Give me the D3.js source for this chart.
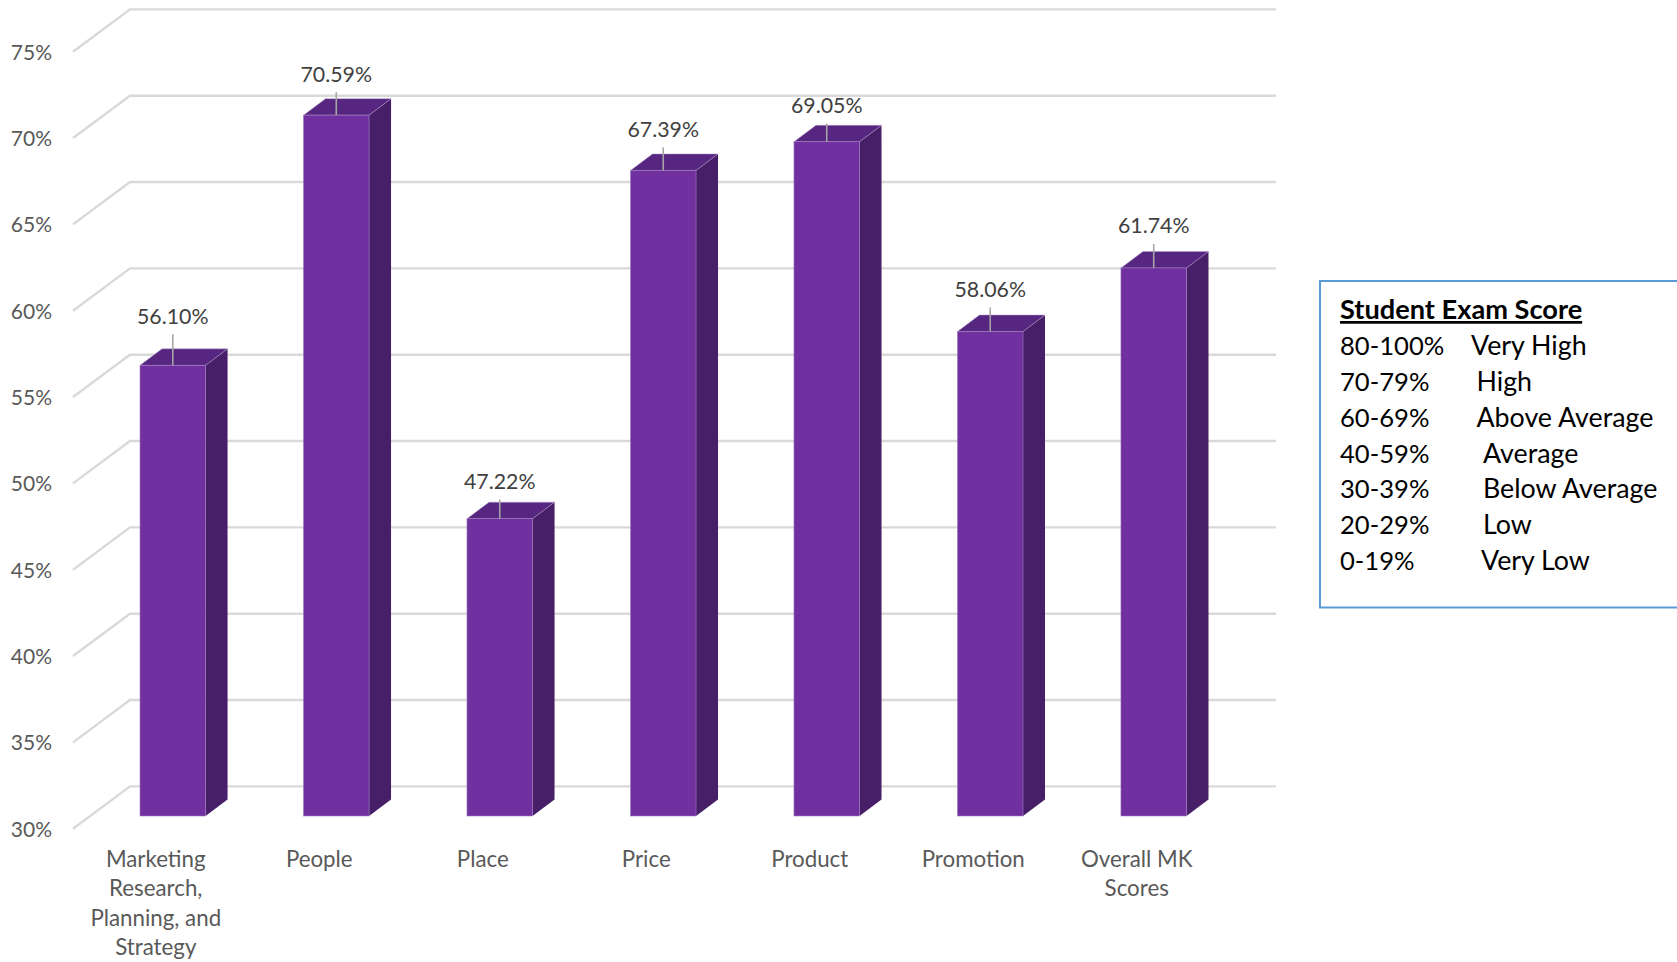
<!DOCTYPE html>
<html>
<head>
<meta charset="utf-8">
<script src="https://cdn.jsdelivr.net/npm/d3@7/dist/d3.min.js"></script>
<style>
html,body{margin:0;padding:0;background:#fff;overflow:hidden}
text{font-family:Lato,"Noto Sans",sans-serif}
</style>
</head>
<body>
<svg id="chart" width="1677" height="962"></svg>
<script>
// Chart data
const categories = ["Marketing Research, Planning, and Strategy", "People", "Place", "Price", "Product", "Promotion", "Overall MK Scores"];
const categoryLines = [["Marketing", "Research,", "Planning, and", "Strategy"], ["People"], ["Place"], ["Price"], ["Product"], ["Promotion"], ["Overall MK", "Scores"]];
const scores = [56.10, 70.59, 47.22, 67.39, 69.05, 58.06, 61.74];
const yTicks = [30, 35, 40, 45, 50, 55, 60, 65, 70, 75];
const legendTitle = "Student Exam Score";
const legendRanges = ["80-100%", "70-79%", "60-69%", "40-59%", "30-39%", "20-29%", "0-19%"];
const legendLevels = ["Very High", "High", "Above Average", "Average", "Below Average", "Low", "Very Low"];

// Length of the leader between each bar top and its value label
const leaderLengths = [31, 23, 19, 23, 18, 24, 24];
// Column start of each level name in the score key
const legendLevelX = [1471, 1476.5, 1476.5, 1483, 1483, 1483, 1481];

const svg = d3.select("#chart");

const y = d3.scaleLinear().domain([30, 75]).range([816, 39]);
const x = d3.scaleBand().domain(categories).range([140, 1186.5]).paddingInner(0.599).paddingOuter(0);
const bw = x.bandwidth();

// Oblique projection used for the bar depth and for the floor/wall gridlines
const barDx = 22, barDy = -16.5;
const gridFrontX = 73, gridBackX = 130, gridRightX = 1276;
const gridFrontDy = 12.7, gridBackDy = -29.6;

// Gridlines: a short diagonal on the side wall, then the back wall run
svg.append("g").selectAll("path").data(yTicks).join("path")
  .attr("fill", "none").attr("stroke", "#d9d9d9").attr("stroke-width", 2.4)
  .attr("d", d => d3.line()([
    [gridFrontX, y(d) + gridFrontDy],
    [gridBackX, y(d) + gridBackDy],
    [gridRightX, y(d) + gridBackDy]
  ]));

// Value axis labels
const yAxis = svg.append("g")
  .attr("transform", "translate(52,0)")
  .call(d3.axisLeft(y).tickValues(yTicks).tickSize(0).tickPadding(0).tickFormat(d => d + "%"));
yAxis.select(".domain").remove();
yAxis.selectAll("text")
  .attr("dy", null).attr("y", 20.2)
  .style("font-family", "Lato, 'Noto Sans', sans-serif")
  .style("font-size", "21px").attr("fill", "#595959");

// Bars
const bars = svg.append("g").selectAll("g").data(scores).join("g");
const base = y.range()[0];
const bx = (d, i) => x(categories[i]);

bars.append("path") // side face
  .attr("fill", "#461f68")
  .attr("d", (d, i) => d3.line()([
    [bx(d, i) + bw, y(d)],
    [bx(d, i) + bw + barDx, y(d) + barDy],
    [bx(d, i) + bw + barDx, base + barDy],
    [bx(d, i) + bw, base]
  ]) + "Z");

bars.append("path") // top face
  .attr("fill", "#572680")
  .attr("stroke", "#b9a3cc").attr("stroke-width", 0.5)
  .attr("d", (d, i) => d3.line()([
    [bx(d, i), y(d)],
    [bx(d, i) + barDx, y(d) + barDy],
    [bx(d, i) + bw + barDx, y(d) + barDy],
    [bx(d, i) + bw, y(d)]
  ]) + "Z");

bars.append("rect") // front face
  .attr("x", (d, i) => bx(d, i))
  .attr("y", d => y(d))
  .attr("width", bw)
  .attr("height", d => base - y(d))
  .attr("fill", "#7030a0")
  .attr("stroke", "#9f7cbc").attr("stroke-width", 0.6);

// Leader lines and value labels
bars.append("line")
  .attr("x1", (d, i) => bx(d, i) + bw / 2)
  .attr("x2", (d, i) => bx(d, i) + bw / 2)
  .attr("y1", d => y(d))
  .attr("y2", (d, i) => y(d) - leaderLengths[i])
  .attr("stroke", "#a6a6a6").attr("stroke-width", 1.6);

bars.append("text")
  .attr("x", (d, i) => bx(d, i) + bw / 2)
  .attr("y", (d, i) => y(d) - leaderLengths[i] - 10.5)
  .attr("text-anchor", "middle")
  .attr("font-size", 21.3).attr("fill", "#404040")
  .text(d => d.toFixed(2) + "%");

// Category labels sit left of the bars, following the chart's front edge
const labelShift = -17;
svg.append("g").selectAll("text").data(categoryLines).join("text")
  .attr("text-anchor", "middle")
  .attr("font-size", 22.3).attr("fill", "#595959")
  .each(function (lines, i) {
    const cx = x(categories[i]) + bw / 2 + labelShift;
    d3.select(this).selectAll("tspan").data(lines).join("tspan")
      .attr("x", cx)
      .attr("y", (l, k) => 866.7 + k * 29.4)
      .text(l => l);
  });

// Score key, running off the right edge of the page
const key = svg.append("g");
key.append("path")
  .attr("fill", "#fff").attr("stroke", "#5b9bd5").attr("stroke-width", 2)
  .attr("d", d3.line()([[1677, 281], [1320, 281], [1320, 607.5], [1677, 607.5]]));
key.append("text")
  .attr("x", 1340).attr("y", 319)
  .attr("font-size", 27.2).attr("font-weight", 700).attr("fill", "#000")
  .attr("text-decoration", "underline")
  .text(legendTitle);
const rowY = d3.scalePoint().domain(legendRanges).range([355, 570]);
key.append("g").selectAll("text").data(legendRanges).join("text")
  .attr("x", 1340).attr("y", d => rowY(d))
  .attr("font-size", 25.6).attr("fill", "#000")
  .text(d => d);
key.append("g").selectAll("text").data(legendLevels).join("text")
  .attr("x", (d, i) => legendLevelX[i]).attr("y", (d, i) => rowY(legendRanges[i]))
  .attr("font-size", 26.8).attr("fill", "#000")
  .text(d => d);
</script>
</body>
</html>
